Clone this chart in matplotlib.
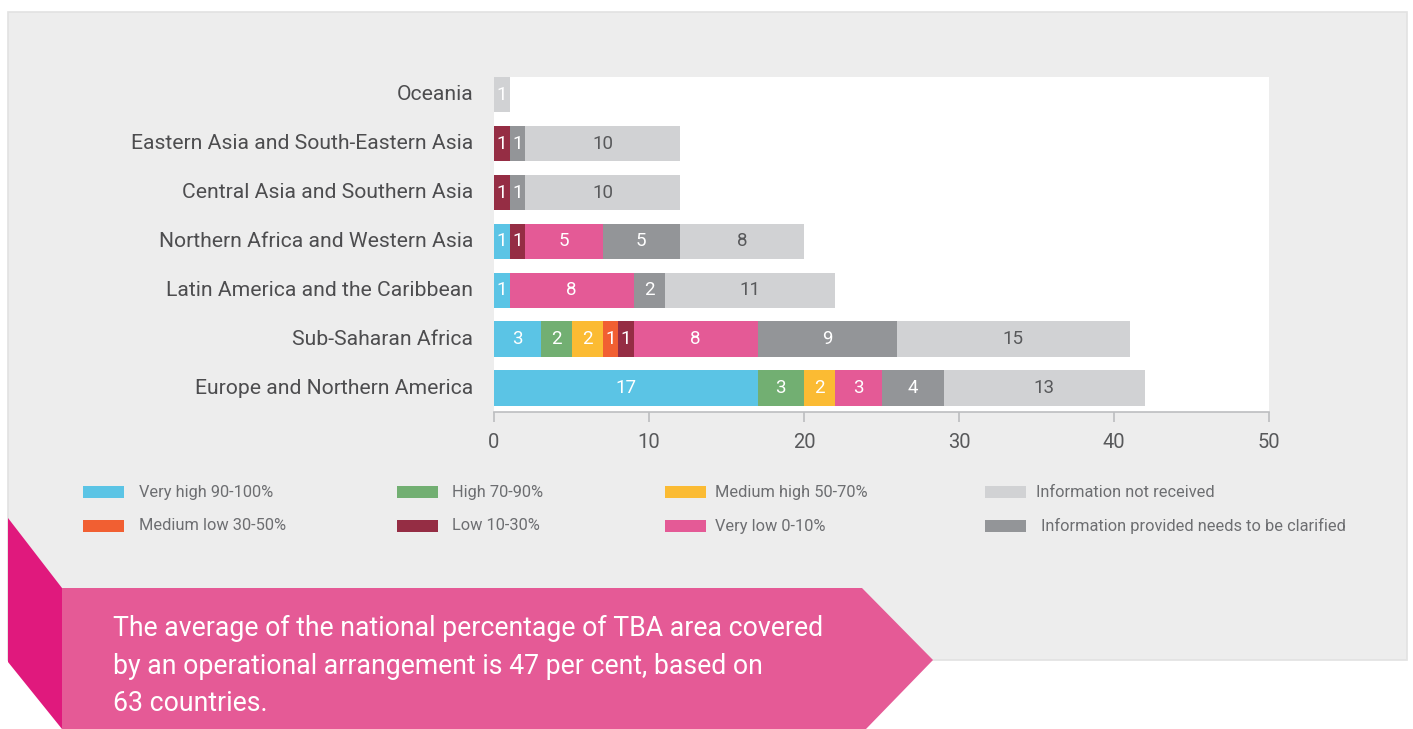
import matplotlib
matplotlib.use("Agg")
import matplotlib.pyplot as plt
from matplotlib.patches import Rectangle, Polygon
import numpy as np

plt.rcParams['font.family'] = ['Roboto', 'DejaVu Sans']

regions = [
    "Oceania",
    "Eastern Asia and South-Eastern Asia",
    "Central Asia and Southern Asia",
    "Northern Africa and Western Asia",
    "Latin America and the Caribbean",
    "Sub-Saharan Africa",
    "Europe and Northern America",
]

categories = [
    "Very high 90-100%",
    "High 70-90%",
    "Medium high 50-70%",
    "Medium low 30-50%",
    "Low 10-30%",
    "Very low 0-10%",
    "Information provided needs to be clarified",
    "Information not received",
]

very_high = [0, 0, 0, 1, 1, 3, 17]
high = [0, 0, 0, 0, 0, 2, 3]
medium_high = [0, 0, 0, 0, 0, 2, 2]
medium_low = [0, 0, 0, 0, 0, 1, 0]
low = [0, 1, 1, 1, 0, 1, 0]
very_low = [0, 0, 0, 5, 8, 8, 3]
clarify = [0, 1, 1, 5, 2, 9, 4]
not_received = [1, 10, 10, 8, 11, 15, 13]

series = [very_high, high, medium_high, medium_low, low, very_low, clarify, not_received]
colors = ["#5bc4e5", "#72af72", "#fbbb33", "#f15f32", "#952d44",
          "#e45a96", "#939598", "#d1d2d4"]
text_colors = ["white"] * 7 + ["#58595b"]

xticks = [0, 10, 20, 30, 40, 50]

note = ("The average of the national percentage of TBA area covered\n"
        "by an operational arrangement is 47 per cent, based on\n"
        "63 countries.")

W, H = 1413, 729
fig = plt.figure(figsize=(W / 100, H / 100), dpi=100)
fig.patch.set_facecolor("white")

# Background layer in pixel coordinates
bg = fig.add_axes([0, 0, 1, 1], zorder=0)
bg.set_xlim(0, W)
bg.set_ylim(H, 0)
bg.axis("off")
bg.add_patch(Rectangle((8, 12), 1399, 648, facecolor="#ededed",
                       edgecolor="#e2e2e2", lw=1.2))

# Legend
legend_cols_patch = [83, 397, 665, 985]
legend_cols_text = [139, 452, 715, 1036]
legend_rows = [492, 526]
legend_layout = [
    (0, 0, 0), (1, 0, 1), (2, 0, 2), (7, 0, 3),
    (3, 1, 0), (4, 1, 1), (5, 1, 2), (6, 1, 3),
]
for idx, r, c in legend_layout:
    y = legend_rows[r]
    bg.add_patch(Rectangle((legend_cols_patch[c], y - 6), 41, 12,
                           facecolor=colors[idx], edgecolor="none"))
    label = categories[idx]
    xoff = 5 if idx == 6 else 0
    bg.text(legend_cols_text[c] + xoff, y, label, fontsize=11.8,
            color="#6d6e71", va="center", ha="left")

# Callout banner
bg.add_patch(Polygon([(8, 518), (62, 588), (62, 729), (8, 662)],
                     closed=True, facecolor="#e0197d", edgecolor="none"))
bg.add_patch(Polygon([(62, 588), (862, 588), (933, 660), (866, 729), (62, 729)],
                     closed=True, facecolor="#e55a96", edgecolor="none"))
bg.text(113, 666, note, fontsize=19.2, color="white", va="center",
        ha="left", linespacing=1.5)

# Chart
x0, x1, y0, y1 = 494, 1269, 77, 412
ax = fig.add_axes([x0 / W, 1 - y1 / H, (x1 - x0) / W, (y1 - y0) / H], zorder=1)
ax.set_facecolor("white")

n = len(regions)
pos = np.arange(n)[::-1]
left = np.zeros(n)
bar_h = 0.726
for vals, col, tcol in zip(series, colors, text_colors):
    vals = np.array(vals, dtype=float)
    ax.barh(pos, vals, left=left, height=bar_h, color=col, edgecolor="none")
    for p, l, v in zip(pos, left, vals):
        if v > 0:
            c = tcol
            if col == "#d1d2d4" and v < 2:
                c = "white"
            ax.text(l + v / 2, p, f"{int(v)}", ha="center", va="center",
                    fontsize=13.5, color=c)
    left += vals

ax.set_xlim(0, 50)
ax.set_ylim(-0.49, n - 1 + bar_h / 2)
ax.set_xticks(xticks)
ax.set_xticklabels([str(t) for t in xticks])
ax.set_yticks(pos)
ax.set_yticklabels(regions, va="center")
for s in ["top", "right", "left"]:
    ax.spines[s].set_visible(False)
ax.spines["bottom"].set_color("#bcbec0")
ax.spines["bottom"].set_linewidth(1.2)
ax.tick_params(axis="x", length=7.5, width=1.2, color="#bcbec0",
               labelsize=14.5, labelcolor="#58595b", pad=7.5)
ax.tick_params(axis="y", length=0, labelsize=15.2, labelcolor="#4d4d4f", pad=15)

fig.savefig("out.png", dpi=100)
